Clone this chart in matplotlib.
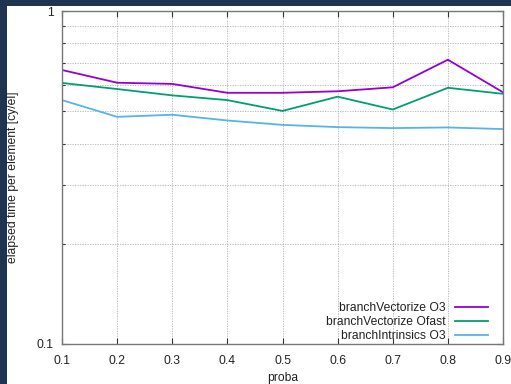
import matplotlib
matplotlib.use("Agg")
import matplotlib.pyplot as plt
from matplotlib.patches import Rectangle
from matplotlib.ticker import FixedLocator, NullFormatter

plt.rcParams['font.family'] = ['Liberation Sans', 'DejaVu Sans']

proba = [0.1, 0.2, 0.3, 0.4, 0.5, 0.6, 0.7, 0.8, 0.9]
vectorize_o3 = [0.665, 0.609, 0.604, 0.568, 0.568, 0.574, 0.590, 0.714, 0.570]
vectorize_ofast = [0.608, 0.583, 0.558, 0.540, 0.501, 0.553, 0.506, 0.588, 0.564]
intrinsics_o3 = [0.540, 0.481, 0.488, 0.469, 0.455, 0.448, 0.445, 0.447, 0.442]

series_names = ["branchVectorize O3", "branchVectorize Ofast", "branchIntrinsics O3"]
series_colors = ["#9400d3", "#009e73", "#56b4e9"]

FS = 8.7
W, H = 511, 384
fig = plt.figure(figsize=(W / 100, H / 100), dpi=100, facecolor="white")

# dark window edges on the left and top
fig.patches.append(Rectangle((0, 0), 7 / W, 1, transform=fig.transFigure,
                             facecolor="#1e3450", edgecolor="none", zorder=-1))
fig.patches.append(Rectangle((0, 1 - 6 / H), 1, 6 / H, transform=fig.transFigure,
                             facecolor="#1e3450", edgecolor="none", zorder=-1))

left, right, top, bottom = 62, 503, 11, 344
ax = fig.add_axes([left / W, 1 - bottom / H, (right - left) / W, (bottom - top) / H])

for vals, name, col in zip([vectorize_o3, vectorize_ofast, intrinsics_o3],
                           series_names, series_colors):
    ax.plot(proba, vals, color=col, lw=1.3, label=name)

ax.set_yscale("log")
ax.set_xlim(0.1, 0.9)
ax.set_ylim(0.1, 1)
ax.set_xticks(proba)
ax.set_xticklabels([f"{p:.1f}" for p in proba])
ax.yaxis.set_major_locator(FixedLocator([0.1, 1]))
ax.set_yticklabels(["0.1", "1"])
ax.yaxis.set_minor_locator(FixedLocator([0.2, 0.3, 0.4, 0.5, 0.6, 0.7, 0.8, 0.9]))
ax.yaxis.set_minor_formatter(NullFormatter())

ax.tick_params(which="both", direction="in", top=True, right=True,
               labelsize=FS, colors="#333333", labelcolor="#222222", width=0.8)
ax.tick_params(which="major", length=4)
ax.tick_params(axis="x", which="major", pad=8)
ax.tick_params(axis="y", which="major", pad=6)
ax.tick_params(which="minor", length=2.5)

ax.grid(True, which="both", linestyle=(0, (1.5, 1.5)), color="#b0b0b0", lw=0.6)
for s in ax.spines.values():
    s.set_color("#777777")
    s.set_linewidth(1.0)

ax.set_xlabel("proba", fontsize=FS, color="#222222", va="top")
ax.xaxis.set_label_coords(0.5, -0.083)
ax.set_ylabel("elapsed time per element [cy/el]", fontsize=FS, color="#222222")
ax.yaxis.set_label_coords(-0.0975, 0.5)

leg = ax.legend(loc="lower right", bbox_to_anchor=(0.977, -0.008), frameon=False,
                fontsize=FS, markerfirst=False, handlelength=2.75,
                handletextpad=0.75, labelspacing=0.16, borderaxespad=0.0)
for t in leg.get_texts():
    t.set_ha("right")
    t.set_color("#222222")

fig.savefig("out.png", dpi=100, facecolor=fig.get_facecolor())
